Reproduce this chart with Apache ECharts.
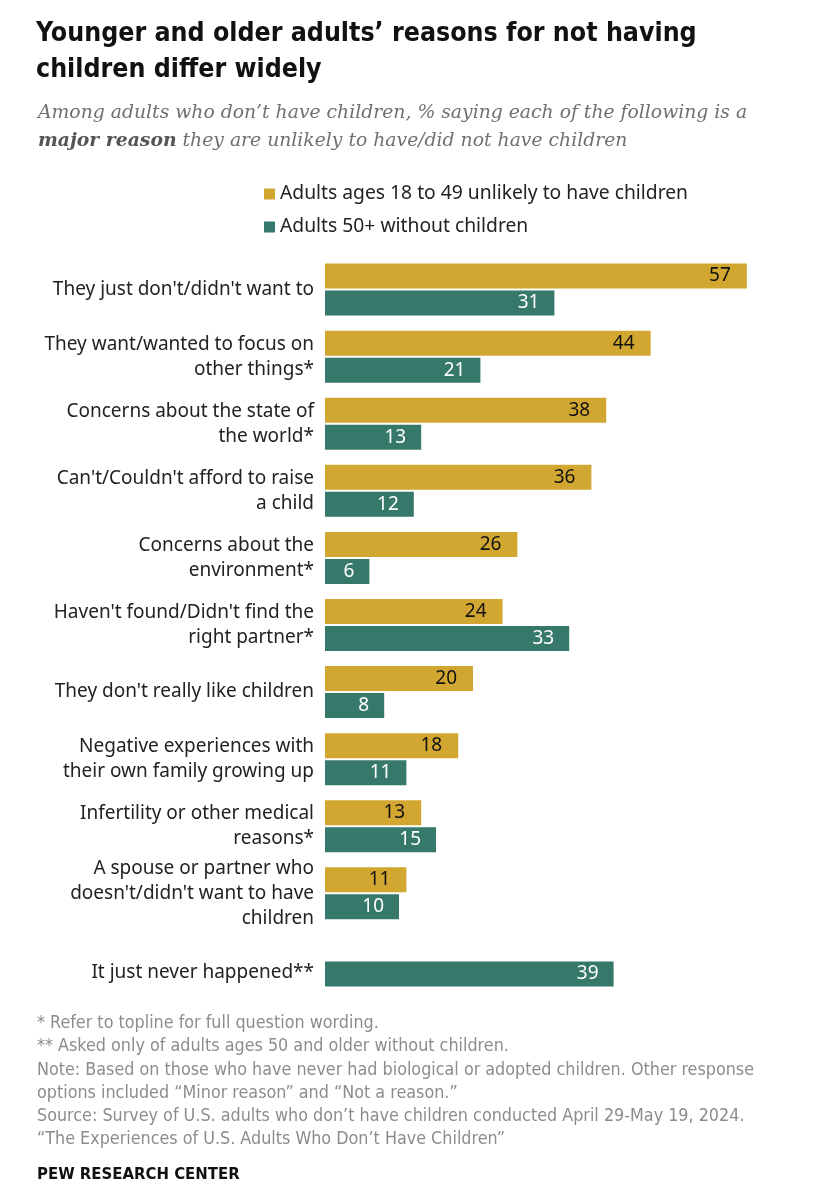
<!DOCTYPE html>
<html>
<head>
<meta charset="utf-8">
<script src="https://cdn.jsdelivr.net/npm/echarts@6/dist/echarts.min.js"></script>
<style>
  html, body { margin: 0; padding: 0; background: #fff; }
  #chart { width: 815px; height: 1200px; }
</style>
</head>
<body>
<div id="chart"></div>
<script>
// reasons, top to bottom
var categories = [
    "They just don't/didn't want to",
    "They want/wanted to focus on\nother things*",
    "Concerns about the state of\nthe world*",
    "Can't/Couldn't afford to raise\na child",
    "Concerns about the\nenvironment*",
    "Haven't found/Didn't find the\nright partner*",
    "They don't really like children",
    "Negative experiences with\ntheir own family growing up",
    "Infertility or other medical\nreasons*",
    "A spouse or partner who\ndoesn't/didn't want to have\nchildren",
    "It just never happened**"
];
var younger = [57, 44, 38, 36, 26, 24, 20, 18, 13, 11, null];
var older = [31, 21, 13, 12, 6, 33, 8, 11, 15, 10, 39];
var seriesNames = ['Adults ages 18 to 49 unlikely to have children', 'Adults 50+ without children'];

var footLines = [
    '* Refer to topline for full question wording.',
    '** Asked only of adults ages 50 and older without children.',
    'Note: Based on those who have never had biological or adopted children. Other response',
    'options included \u201cMinor reason\u201d and \u201cNot a reason.\u201d',
    'Source: Survey of U.S. adults who don\u2019t have children conducted April 29-May 19, 2024.',
    '\u201cThe Experiences of U.S. Adults Who Don\u2019t Have Children\u201d'
];

var narrow = "'DejaVu Sans Condensed', sans-serif";
var sans = "'Noto Sans', 'Liberation Sans', sans-serif";
var serif = "'DejaVu Serif', 'Liberation Serif', serif";
var gold = '#D2A731';
var green = '#36786A';

var myChart = echarts.init(document.getElementById('chart'));
var option = {
    backgroundColor: '#fff',
    animation: false,
    title: [
        {
            text: 'Younger and older adults\u2019 reasons for not having\nchildren differ widely',
            left: 31, top: 11,
            textStyle: { fontFamily: narrow, fontWeight: 'bold', fontSize: 26.5, lineHeight: 36, color: '#111' }
        },
        {
            text: '{i|Among adults who don\u2019t have children, % saying each of the following is a}\n{b|major reason}{i| they are unlikely to have/did not have children}',
            left: 33, top: 94,
            textStyle: {
                rich: {
                    i: { fontFamily: serif, fontStyle: 'italic', fontWeight: 'normal', fontSize: 18.8, lineHeight: 28, color: '#707070' },
                    b: { fontFamily: serif, fontStyle: 'italic', fontWeight: 'bold', fontSize: 18.8, lineHeight: 28, color: '#555' }
                }
            }
        },
        {
            text: footLines.join('\n'),
            left: 32, top: 1007,
            textStyle: { fontFamily: narrow, fontWeight: 'normal', fontSize: 17.8, lineHeight: 23.2, color: '#8c8c8c' }
        },
        {
            text: 'PEW RESEARCH CENTER',
            left: 32, top: 1161,
            textStyle: { fontFamily: narrow, fontWeight: 'bold', fontSize: 16.6, color: '#111' }
        }
    ],
    legend: {
        orient: 'vertical',
        left: 259, top: 179,
        icon: 'rect',
        itemWidth: 11, itemHeight: 11,
        itemGap: 13,
        selectedMode: false,
        textStyle: { fontFamily: sans, fontSize: 19.3, lineHeight: 20, color: '#222' },
        data: seriesNames
    },
    grid: { left: 325, right: 46, top: 256, bottom: 206 },
    xAxis: { type: 'value', min: 0, max: 60, show: false },
    yAxis: {
        type: 'category',
        inverse: true,
        data: categories,
        axisLine: { show: false },
        axisTick: { show: false },
        axisLabel: {
            fontFamily: sans, fontSize: 19, lineHeight: 25, color: '#222', margin: 11,
            // the last row has only the 50+ bar, so its label sits level with that bar
            formatter: function (value, i) {
                return younger[i] == null ? '\n' + value : value;
            }
        }
    },
    series: [
        {
            name: seriesNames[0],
            type: 'bar',
            data: younger,
            barWidth: 25,
            barGap: '8%',
            itemStyle: { color: gold },
            label: { show: true, position: 'insideRight', distance: 16, fontFamily: sans, fontSize: 19, color: '#111' }
        },
        {
            name: seriesNames[1],
            type: 'bar',
            data: older,
            barWidth: 25,
            itemStyle: { color: green },
            label: { show: true, position: 'insideRight', distance: 15, fontFamily: sans, fontSize: 19, color: '#fff' }
        }
    ]
};
myChart.setOption(option);
window.addEventListener('resize', function () { myChart.resize(); });
</script>
</body>
</html>
